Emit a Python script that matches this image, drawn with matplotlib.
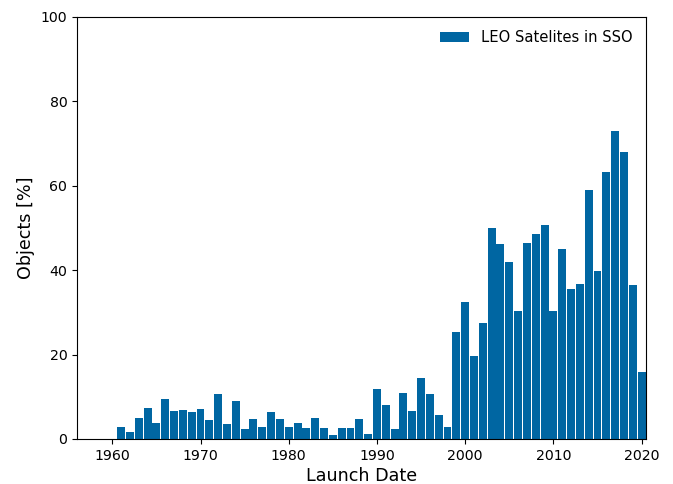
import matplotlib.pyplot as plt
import numpy as np

years = np.arange(1961, 2021)
share = [2.8, 1.7, 5.0, 7.3, 3.8, 9.5, 6.6, 6.9, 6.4, 7.1,
         4.5, 10.7, 3.6, 9.0, 2.4, 4.7, 2.8, 6.4, 4.7, 2.8,
         3.8, 2.6, 5.0, 2.6, 0.9, 2.6, 2.6, 4.7, 1.2, 11.8,
         8.0, 2.4, 10.9, 6.6, 14.5, 10.7, 5.7, 2.8, 25.4, 32.5,
         19.7, 27.5, 50.0, 46.2, 41.9, 30.3, 46.4, 48.6, 50.7, 30.3,
         45.0, 35.5, 36.7, 59.0, 39.8, 63.3, 73.0, 68.0, 36.5, 15.9]

fig = plt.figure(figsize=(6.73, 4.84), dpi=100)
ax = fig.add_axes([77 / 673, 45 / 484, 569 / 673, 422 / 484])
ax.bar(years, share, width=0.9, color="#0066a2",
       label="LEO Satelites in SSO")
ax.set_xlim(1956, 2020.5)
ax.set_ylim(0, 100)
ax.set_xticks([1960, 1970, 1980, 1990, 2000, 2010, 2020])
ax.tick_params(labelsize=10.2)
ax.set_xlabel("Launch Date", fontsize=12.6, labelpad=3)
ax.set_ylabel("Objects [%]", fontsize=12.6)
ax.legend(frameon=False, loc="upper right", fontsize=10.6)
fig.savefig("out.png", dpi=100)
